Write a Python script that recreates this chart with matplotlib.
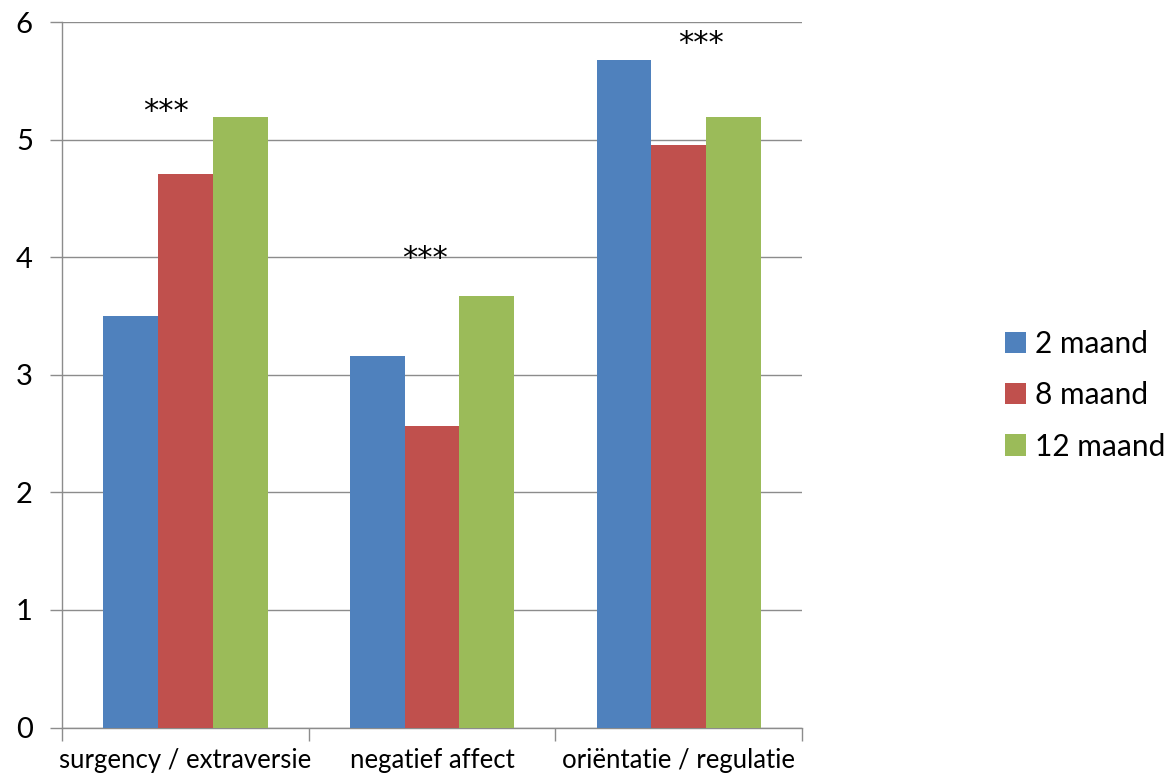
import matplotlib
matplotlib.use("Agg")
import matplotlib.pyplot as plt
import numpy as np

categories = ["surgency / extraversie", "negatief affect", "oriëntatie / regulatie"]
series_names = ["2 maand", "8 maand", "12 maand"]
values_2m = [3.50, 3.16, 5.68]
values_8m = [4.71, 2.56, 4.95]
values_12m = [5.19, 3.67, 5.19]
colors = ["#4F81BD", "#C0504D", "#9BBB59"]
sig_labels = ["***", "***", "***"]
sig_x = [-0.08, 0.97, 2.09]
sig_y = [5.24, 3.99, 5.82]
yticks = [0, 1, 2, 3, 4, 5, 6]

plt.rcParams["font.family"] = ["Lato", "DejaVu Sans"]

fig = plt.figure(figsize=(11.75, 7.78), dpi=100)
ax = fig.add_axes([0.0528, 0.0649, 0.6298, 0.9068])

x = np.arange(len(categories))
width = 0.222
for i, (vals, name, c) in enumerate(zip([values_2m, values_8m, values_12m], series_names, colors)):
    ax.bar(x + (i - 1) * width, vals, width, color=c, label=name, zorder=3)

for sx, sy, s in zip(sig_x, sig_y, sig_labels):
    ax.text(sx, sy, s, ha="center", va="center", fontsize=22, family="DejaVu Sans", zorder=4)

ax.set_xlim(-0.5, 2.5)
ax.set_ylim(0, 6)
ax.set_yticks(yticks)
ax.set_yticklabels([str(t) for t in yticks], fontsize=21)
ax.yaxis.grid(True, color="#8c8c8c", linewidth=1.0, zorder=0)
ax.tick_params(axis="y", length=9, width=1, color="#8c8c8c", pad=12)

ax.set_xticks([-0.5, 0.5, 1.5, 2.5])
ax.set_xticklabels([])
ax.tick_params(axis="x", which="major", length=9, width=1, color="#8c8c8c", direction="out")
ax.set_xticks(x, minor=True)
ax.set_xticklabels(categories, minor=True, fontsize=18.5)
ax.tick_params(axis="x", which="minor", length=0, pad=15)

for side in ["top", "right"]:
    ax.spines[side].set_visible(False)
for side in ["left", "bottom"]:
    ax.spines[side].set_color("#8c8c8c")
    ax.spines[side].set_linewidth(1.0)

leg = fig.legend(loc="center left", bbox_to_anchor=(0.855, 0.492), frameon=False,
                 fontsize=21.5, handlelength=0.72, handleheight=0.72,
                 handletextpad=0.3, labelspacing=0.78, borderaxespad=0, borderpad=0)

fig.savefig("out.png", dpi=100)
